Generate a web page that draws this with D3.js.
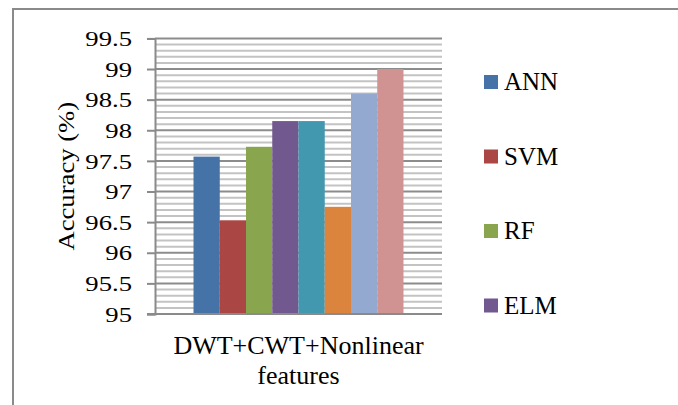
<!DOCTYPE html>
<html>
<head>
<meta charset="utf-8">
<script src="https://cdn.jsdelivr.net/npm/d3@7"></script>
<style>
  html, body { margin: 0; padding: 0; background: #fff; }
  svg text { font-family: "Liberation Serif", "Times New Roman", Times, "Tinos", "DejaVu Serif", serif !important; }
</style>
</head>
<body>
<svg id="chart" width="678" height="405"></svg>
<script>
// ---- data ----
const categories = ["DWT+CWT+Nonlinear features"];
const categoryLines = ["DWT+CWT+Nonlinear", "features"];
const seriesNames = ["ANN", "SVM", "RF", "ELM", "Series 5", "Series 6", "Series 7", "Series 8"];
const seriesValues = [97.57, 96.53, 97.73, 98.15, 98.15, 96.75, 98.6, 99.0];
const seriesColors = ["#4572A7", "#AA4643", "#89A54E", "#71588F", "#4198AF", "#DB843D", "#93A9CF", "#D19392"];
const legendNames = ["ANN", "SVM", "RF", "ELM"];
const yTicks = [95, 95.5, 96, 96.5, 97, 97.5, 98, 98.5, 99, 99.5];
const yTitle = "Accuracy (%)";

// ---- layout ----
const svg = d3.select("#chart");
const plot = { left: 155, right: 442, top: 38.4, bottom: 314 };

const y = d3.scaleLinear().domain([95, 99.5]).range([plot.bottom, plot.top]);
const x0 = d3.scaleBand().domain(categories).range([plot.left, plot.right]).padding(0.155);
const x1 = d3.scaleBand().domain(seriesNames).range([0, x0.bandwidth()]).padding(0);

// outer frame
svg.append("path")
  .attr("d", `M13,405 L13,9 L678,9`)
  .attr("fill", "none").attr("stroke", "#8a8a8a").attr("stroke-width", 2);

// minor gridlines
const minor = d3.range(95.1, 99.5, 0.1).map(v => Math.round(v * 10) / 10).filter(v => Math.round(v * 10) % 5 !== 0);
svg.append("g").selectAll("line").data(minor).join("line")
  .attr("x1", plot.left).attr("x2", plot.right)
  .attr("y1", d => y(d)).attr("y2", d => y(d))
  .attr("stroke", "#c3c3c3").attr("stroke-width", 2);

// major gridlines
svg.append("g").selectAll("line").data(yTicks.filter(v => v > 95)).join("line")
  .attr("x1", plot.left).attr("x2", plot.right)
  .attr("y1", d => y(d)).attr("y2", d => y(d))
  .attr("stroke", "#8c8c8c").attr("stroke-width", 2);

// bars
const data = seriesNames.map((n, i) => ({ name: n, value: seriesValues[i], color: seriesColors[i] }));
svg.append("g").selectAll("rect").data(data).join("rect")
  .attr("x", d => x0(categories[0]) + x1(d.name))
  .attr("width", x1.bandwidth())
  .attr("y", d => y(d.value))
  .attr("height", d => y(95) - y(d.value))
  .attr("fill", d => d.color);

// y axis
const yAxis = svg.append("g").attr("transform", `translate(${plot.left},0)`)
  .call(d3.axisLeft(y).tickValues(yTicks).tickSize(8).tickFormat(d3.format("")));
yAxis.attr("font-family", null);
yAxis.select(".domain").attr("stroke", "#8a8a8a").attr("stroke-width", 2);
yAxis.selectAll(".tick line").attr("stroke", "#8a8a8a").attr("stroke-width", 2);
yAxis.selectAll(".tick text")
  .attr("x", -23 / 1.27)
  .attr("transform", "scale(1.27,1)")
  .attr("dy", "0.34em")
  .attr("font-size", 21)
  .attr("fill", "#000");

// x axis baseline
svg.append("line")
  .attr("x1", plot.left - 8).attr("x2", plot.right)
  .attr("y1", y(95)).attr("y2", y(95))
  .attr("stroke", "#8a8a8a").attr("stroke-width", 2);

// x category label
const cx = x0(categories[0]) + x0.bandwidth() / 2;
svg.append("text")
  .attr("x", cx).attr("y", 354)
  .attr("text-anchor", "middle").attr("font-size", 26)
  .selectAll("tspan").data(categoryLines).join("tspan")
  .attr("x", cx).attr("dy", (d, i) => i === 0 ? 0 : 30)
  .text(d => d);

// y title
svg.append("text")
  .attr("transform", `translate(74,${(plot.top + plot.bottom) / 2}) rotate(-90) scale(1.16,1)`)
  .attr("text-anchor", "middle").attr("font-size", 23)
  .text(yTitle);

// legend
const lg = svg.append("g").selectAll("g").data(legendNames).join("g")
  .attr("transform", (d, i) => `translate(484,${75 + i * 74.5})`);
lg.append("rect").attr("width", 14).attr("height", 14)
  .attr("fill", (d, i) => seriesColors[i]);
lg.append("text").attr("x", 20).attr("y", 15).attr("font-size", 25).text(d => d);
</script>
</body>
</html>
